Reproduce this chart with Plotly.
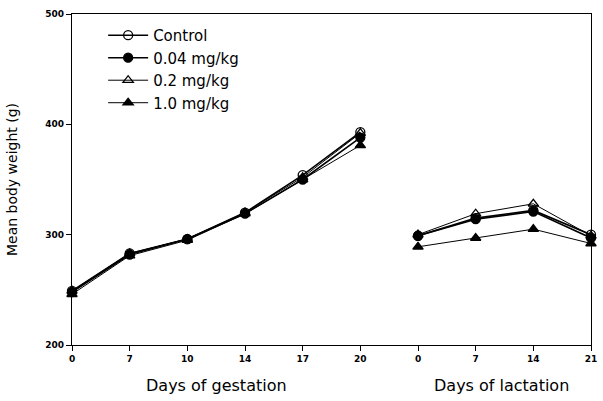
import plotly.graph_objects as go

gestation_days = ["0", "7", "10", "14", "17", "20"]
lactation_days = ["0", "7", "14", "21"]

groups = ["Control", "0.04 mg/kg", "0.2 mg/kg", "1.0 mg/kg"]
gestation_weights = {
    "Control":    [249, 283, 296, 320, 354, 393],
    "0.04 mg/kg": [248, 282, 296, 319, 350, 388],
    "0.2 mg/kg":  [249, 283, 296, 320, 352, 392],
    "1.0 mg/kg":  [246, 281, 295, 319, 350, 381],
}
lactation_weights = {
    "Control":    [299, 315, 322, 300],
    "0.04 mg/kg": [299, 314, 321, 297],
    "0.2 mg/kg":  [300, 319, 328, 299],
    "1.0 mg/kg":  [289, 297, 305, 292],
}

symbols = {"Control": "circle-open", "0.04 mg/kg": "circle",
           "0.2 mg/kg": "triangle-up-open", "1.0 mg/kg": "triangle-up"}
widths = {"Control": 1.6, "0.04 mg/kg": 1.6, "0.2 mg/kg": 1.0, "1.0 mg/kg": 1.0}

gx = list(range(len(gestation_days)))
lx = [len(gestation_days) + i for i in range(len(lactation_days))]
tickvals = gx + lx
ticktext = gestation_days + lactation_days

fig = go.Figure()
for g in groups:
    for xs, ys, show in [(gx, gestation_weights[g], True), (lx, lactation_weights[g], False)]:
        fig.add_trace(go.Scatter(
            x=xs, y=ys, mode="lines+markers", name=g, legendgroup=g, showlegend=show,
            line=dict(color="black", width=widths[g]),
            marker=dict(symbol=symbols[g], size=9, color="black",
                        line=dict(color="black", width=1.3)),
            cliponaxis=False,
        ))

fig.update_layout(
    width=603, height=401,
    margin=dict(l=72, r=6, t=14, b=56),
    paper_bgcolor="white", plot_bgcolor="white",
    font=dict(family="DejaVu Sans", color="black"),
    showlegend=True,
    legend=dict(x=0.06, y=0.985, xanchor="left", yanchor="top",
                bgcolor="rgba(0,0,0,0)", font=dict(size=15),
                tracegroupgap=0, itemwidth=40),
    xaxis=dict(range=[0, len(tickvals) - 1], tickvals=tickvals, ticktext=ticktext,
               showgrid=False, zeroline=False, showline=True, linecolor="black",
               linewidth=1.2, mirror=True, ticks="outside", ticklen=5,
               tickcolor="black", ticklabeloverflow="allow",
               tickfont=dict(size=9, family="DejaVu Sans", weight="bold")),
    yaxis=dict(range=[200, 500], dtick=100, showgrid=False, zeroline=False,
               showline=True, linecolor="black", linewidth=1.2, mirror=True,
               ticks="outside", ticklen=5, tickcolor="black",
               tickfont=dict(size=9, family="DejaVu Sans", weight="bold"),
               title=dict(text="Mean body weight (g)", font=dict(size=14), standoff=24)),
    annotations=[
        dict(text="Days of gestation", x=2.5, y=-0.121, xref="x", yref="paper",
             showarrow=False, yanchor="middle", font=dict(size=16)),
        dict(text="Days of lactation", x=7.45, y=-0.121, xref="x", yref="paper",
             showarrow=False, yanchor="middle", font=dict(size=16)),
    ],
)

fig.write_html("out.html", config={"displayModeBar": False},
               post_script="document.body.style.margin='0';document.body.style.overflow='hidden';")
